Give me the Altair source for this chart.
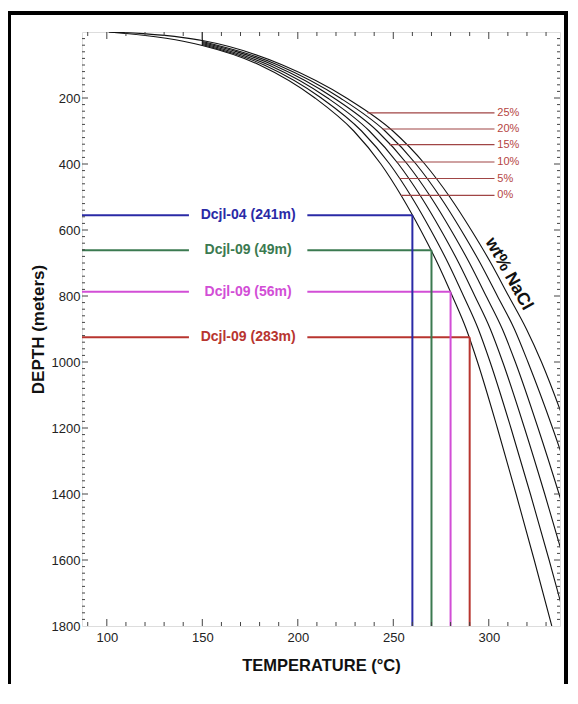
import altair as alt
import pandas as pd
import numpy as np

# ---------------- data ----------------
curve_depths = [100, 200, 300, 400, 500, 600, 700, 800, 900, 1000, 1200, 1400, 1600, 1800]
salinities = ["0%", "5%", "10%", "15%", "20%", "25%"]
start_depth = [41, 38, 35, 32, 29, 26]          # depth where each curve leaves 150 C
t_0 = [180.0, 209.0, 229.3, 243.5, 254.6, 264.3, 273.1, 280.9, 288.2, 294.1, 304.5, 314.3, 323.8, 333.0]
t_5 = [182.4, 212.3, 233.4, 248.1, 259.6, 269.6, 278.7, 286.8, 294.5, 300.7, 311.6, 321.8, 331.6, 341.0]
t_10 = [184.8, 215.6, 237.5, 252.7, 264.6, 274.9, 284.3, 292.7, 300.8, 307.3, 318.7, 329.3, 339.4, 349.0]
t_15 = [187.2, 218.9, 241.6, 257.3, 269.6, 280.2, 289.9, 298.6, 307.1, 313.9, 325.8, 336.8, 347.2, 357.0]
t_20 = [189.6, 222.2, 245.7, 261.9, 274.6, 285.5, 295.5, 304.5, 313.4, 320.5, 333.4, 345.0, 355.8, 366.0]
t_25 = [192.0, 225.5, 249.8, 266.5, 279.6, 290.8, 301.1, 310.4, 319.7, 327.6, 340.8, 352.6, 363.5, 374.0]
curve_temps = [t_0, t_5, t_10, t_15, t_20, t_25]
lead_temps = [101, 119, 140]
lead_depth_0 = [0, 10, 28]
lead_depth_25 = [0, 5, 17]

sample_names = ["Dcjl-04 (241m)", "Dcjl-09 (49m)", "Dcjl-09 (56m)", "Dcjl-09 (283m)"]
sample_depth = [555, 661, 787, 925]
sample_temp = [260, 270, 280, 290]
sample_colors = ["#2a2aa6", "#3b7a50", "#d24ed6", "#b8352f"]

wt_labels = ["25%", "20%", "15%", "10%", "5%", "0%"]
wt_depth = [245, 294, 341, 394, 444, 495]

x_major = [100, 150, 200, 250, 300]
x_minor = [90, 110, 120, 130, 140, 160, 170, 180, 190, 210, 220, 230, 240,
           260, 270, 280, 290, 310, 320, 330]
y_major = [200, 400, 600, 800, 1000, 1200, 1400, 1600]
y_labels = y_major + [1800]
y_minor = [d for d in range(20, 1800, 20) if d % 200 != 0]

# ---------------- tables ----------------
rows = []
curve_pts = {}
for s, d0, temps in zip(salinities, start_depth, curve_temps):
    seq = []
    if s == "0%":
        seq += list(zip(lead_temps, lead_depth_0))
    if s == "25%":
        seq += list(zip(lead_temps, lead_depth_25))
    seq += [(150, d0)] + list(zip(temps, curve_depths))
    curve_pts[s] = seq
    for i, (t, d) in enumerate(seq):
        rows.append({"sal": s, "T": t, "D": d, "o": i})
curves_df = pd.DataFrame(rows)

# leader lines start on their own curve
wt_start = []
for lab, d in zip(wt_labels, wt_depth):
    pts = [p for p in curve_pts[lab] if p[0] >= 150]
    wt_start.append(float(np.interp(d, [p[1] for p in pts], [p[0] for p in pts])))

X0, X1 = 87.0, 337.3
GAP_L, GAP_R, LABEL_T = 143, 205, 174
W, H = 478, 594

xs = alt.Scale(domain=[X0, X1], nice=False, zero=False)
ys = alt.Scale(domain=[0, 1800], reverse=True, nice=False, zero=False)
x_axis = alt.Axis(title="TEMPERATURE (°C)", values=x_major, ticks=False, domain=False, grid=False,
                  labelFontSize=13, labelColor="#222", labelPadding=5, titleFontSize=16.5,
                  titleFontWeight="bold", titleColor="#111", titlePadding=13, labelFlush=False)
y_axis = alt.Axis(title="DEPTH (meters)", values=y_labels, ticks=False, domain=False, grid=False,
                  format="d", labelFontSize=13, labelColor="#222", labelPadding=2,
                  titleFontSize=17, titleFontWeight="bold", titleColor="#111", titlePadding=4,
                  labelFlush=False)

def X(f):
    return alt.X(f, scale=xs, axis=x_axis)

def Y(f):
    return alt.Y(f, scale=ys, axis=y_axis)

col = alt.Color("name:N", scale=alt.Scale(domain=sample_names, range=sample_colors), legend=None)

samples_df = pd.DataFrame({"name": sample_names, "D": sample_depth, "T": sample_temp})
samples_df["x0"] = X0
samples_df["gl"] = GAP_L
samples_df["gr"] = GAP_R
samples_df["lt"] = LABEL_T
samples_df["bot"] = 1800

wt_df = pd.DataFrame({"lab": wt_labels, "D": wt_depth, "T": wt_start})
wt_df["end"] = 303.0
wt_df["tx"] = 304.5

curves = alt.Chart(curves_df).mark_line(color="#111", strokeWidth=1.1, clip=True,
                                        interpolate="monotone").encode(
    x=X("T:Q"), y=Y("D:Q"), detail="sal:N", order="o:Q")

cap = alt.Chart(pd.DataFrame({"T": [150], "D": [0], "D2": [start_depth[0]]})).mark_rule(
    color="#111", strokeWidth=1.1).encode(x=X("T:Q"), y=Y("D:Q"), y2="D2:Q")

h_left = alt.Chart(samples_df).mark_rule(strokeWidth=2).encode(
    x=X("x0:Q"), x2="gl:Q", y=Y("D:Q"), color=col)
h_right = alt.Chart(samples_df).mark_rule(strokeWidth=2).encode(
    x=X("gr:Q"), x2="T:Q", y=Y("D:Q"), color=col)
v_line = alt.Chart(samples_df).mark_rule(strokeWidth=2).encode(
    x=X("T:Q"), y=Y("D:Q"), y2="bot:Q", color=col)
s_text = alt.Chart(samples_df).mark_text(fontWeight="bold", fontSize=14, align="center",
                                         baseline="middle").encode(
    x=X("lt:Q"), y=Y("D:Q"), text="name:N", color=col)

wt_rule = alt.Chart(wt_df).mark_rule(color="#a04545", strokeWidth=1.2).encode(
    x=X("T:Q"), x2="end:Q", y=Y("D:Q"))
wt_text = alt.Chart(wt_df).mark_text(color="#b5443f", fontSize=11, align="left",
                                     baseline="middle").encode(
    x=X("tx:Q"), y=Y("D:Q"), text="lab:N")

nacl = alt.Chart(pd.DataFrame({"T": [310.5], "D": [733], "t": ["wt% NaCl"]})).mark_text(
    fontWeight="bold", fontSize=17.5, angle=61, align="center", baseline="middle", color="#111").encode(
    x=X("T:Q"), y=Y("D:Q"), text="t:N")

tick_col = "#444"
xmaj = pd.DataFrame({"v": x_major})
xmin = pd.DataFrame({"v": x_minor})
ymaj = pd.DataFrame({"v": y_major})
ymin = pd.DataFrame({"v": y_minor})

def xt(df, length):
    b = alt.Chart(df).mark_rule(color=tick_col, strokeWidth=1).encode(
        x=X("v:Q"), y=alt.value(H), y2=alt.value(H - length))
    t = alt.Chart(df).mark_rule(color=tick_col, strokeWidth=1).encode(
        x=X("v:Q"), y=alt.value(0), y2=alt.value(length))
    return [b, t]

def yt(df, length):
    l = alt.Chart(df).mark_rule(color=tick_col, strokeWidth=1).encode(
        y=Y("v:Q"), x=alt.value(0), x2=alt.value(length))
    r = alt.Chart(df).mark_rule(color=tick_col, strokeWidth=1).encode(
        y=Y("v:Q"), x=alt.value(W), x2=alt.value(W - length))
    return [l, r]

ticks = xt(xmaj, 7) + xt(xmin, 4) + yt(ymaj, 6) + yt(ymin, 3)

one = pd.DataFrame({"a": [0]})
frame = [
    alt.Chart(one).mark_rule(color="#000", strokeWidth=4).encode(
        x=alt.value(-73), y=alt.value(-21), y2=alt.value(660)),
    alt.Chart(one).mark_rule(color="#000", strokeWidth=4).encode(
        x=alt.value(484), y=alt.value(-21), y2=alt.value(660)),
    alt.Chart(one).mark_rule(color="#000", strokeWidth=4).encode(
        x=alt.value(-75), x2=alt.value(486), y=alt.value(-19)),
]

chart = alt.layer(curves, cap, h_left, h_right, v_line, s_text, wt_rule, wt_text, nacl,
                  *ticks, *frame).properties(
    width=W, height=H, padding={"left": 74, "top": 24, "right": 8, "bottom": 58},
    autosize=alt.AutoSizeParams(type="none"), background="white"
).configure_view(stroke="#555", strokeWidth=1.5).configure(font="Liberation Sans")

chart.save("out.html", embed_options={"renderer": "svg", "actions": False})
